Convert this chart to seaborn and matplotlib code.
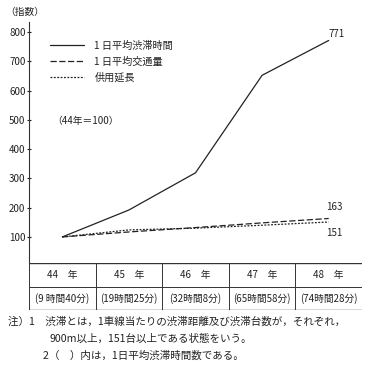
import matplotlib
matplotlib.use("Agg")
import matplotlib.pyplot as plt
import seaborn as sns
import pandas as pd

# data (index, 44年 = 100)
years = [44, 45, 46, 47, 48]
jutai_jikan = [100, 192, 319, 652, 771]   # 1日平均渋滞時間
kotsuryo = [100, 117, 132, 148, 163]      # 1日平均交通量
kyoyo_encho = [100, 124, 130, 140, 151]   # 供用延長
year_labels = ["44　年", "45　年", "46　年", "47　年", "48　年"]
hours_labels = ["(9 時間40分)", "(19時間25分)", "(32時間8分)", "(65時間58分)", "(74時間28分)"]
y_ticks = [100, 200, 300, 400, 500, 600, 700, 800]

sns.set_theme(style="white")
plt.rcParams["font.family"] = ["Noto Sans CJK JP", "DejaVu Sans"]

W, H = 368, 378
fig = plt.figure(figsize=(W / 100, H / 100), dpi=100)

# main axes: x 29..362 px, y 22..263 px
ax = fig.add_axes([29 / W, 1 - 263 / H, (362 - 29) / W, (263 - 22) / H])

df = pd.DataFrame({"year": years, "jikan": jutai_jikan,
                   "kotsu": kotsuryo, "encho": kyoyo_encho})

sns.lineplot(data=df, x="year", y="jikan", ax=ax, color="#222222", lw=0.9,
             label="1 日平均渋滞時間")
sns.lineplot(data=df, x="year", y="kotsu", ax=ax, color="#222222", lw=0.9,
             linestyle=(0, (5, 2)), label="1 日平均交通量")
sns.lineplot(data=df, x="year", y="encho", ax=ax, color="#222222", lw=0.9,
             linestyle=(0, (1.5, 1.2)), label="供用延長")

ax.set_xlim(43.5, 48.5)
ax.set_ylim(11, 834)
ax.set_yticks(y_ticks)
ax.set_xticks([])
ax.set_xlabel("")
ax.set_ylabel("")
ax.tick_params(axis="y", labelsize=7, length=3, width=0.8, direction="inout",
               left=True, pad=1, colors="#222222")
for s in ["top", "right", "bottom"]:
    ax.spines[s].set_visible(False)
ax.spines["left"].set_color("#333333")
ax.spines["left"].set_linewidth(0.8)

leg = ax.legend(loc="upper left", bbox_to_anchor=(0.035, 0.96), frameon=False,
                fontsize=7.3, handlelength=3.4, handletextpad=1.0, labelspacing=0.55)
for t in leg.get_texts():
    t.set_color("#222222")

# end labels
ax.annotate("771", (years[-1], jutai_jikan[-1]), xytext=(0, 1),
            textcoords="offset points", fontsize=7, va="bottom", color="#222222")
ax.annotate("163", (years[-1], kotsuryo[-1]), xytext=(-2, 8),
            textcoords="offset points", fontsize=7, va="center", color="#222222")
ax.annotate("151", (years[-1], kyoyo_encho[-1]), xytext=(-2, -8),
            textcoords="offset points", fontsize=7, va="center", color="#222222")

fig.text(5 / W, 1 - 12 / H, "（指数）", fontsize=7, va="center", color="#222222")
ax.text(43.85, 495, "（44年＝100）", fontsize=7, va="center", color="#222222")

# table under the axis
tab = fig.add_axes([29 / W, 1 - 310 / H, (362 - 29) / W, (310 - 263) / H])
tab.set_xlim(43.5, 48.5)
tab.set_ylim(0, 2)
tab.axis("off")
for yy in [0, 1, 2]:
    tab.axhline(yy, color="#333333", lw=1.0 if yy != 1 else 0.7)
for xx in [43.5, 44.5, 45.5, 46.5, 47.5, 48.5]:
    tab.axvline(xx, color="#333333", lw=0.7)
for x, lab, hrs in zip(years, year_labels, hours_labels):
    tab.text(x, 1.5, lab, ha="center", va="center", fontsize=7, color="#222222")
    tab.text(x, 0.5, hrs, ha="center", va="center", fontsize=7, color="#222222")

# notes
fig.text(8 / W, 1 - 322 / H, "注）1　渋滞とは，1車線当たりの渋滞距離及び渋滞台数が，それぞれ，",
         fontsize=7.6, va="center", color="#222222")
fig.text(50 / W, 1 - 339 / H, "900m以上，151台以上である状態をいう。",
         fontsize=7.6, va="center", color="#222222")
fig.text(43 / W, 1 - 356 / H, "2（　）内は，1日平均渋滞時間数である。",
         fontsize=7.6, va="center", color="#222222")

fig.savefig("out.png", dpi=100)
